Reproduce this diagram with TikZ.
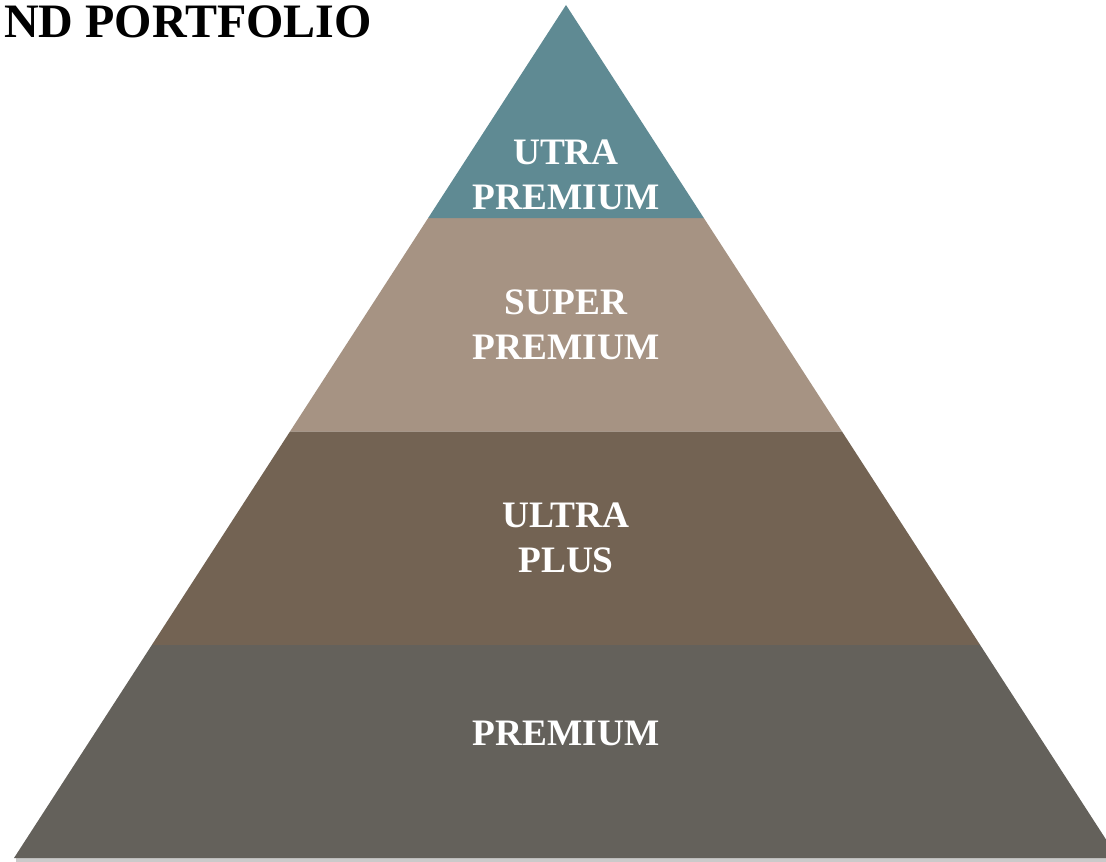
\documentclass[tikz,border=0pt]{standalone}
\usepackage{fontspec}
\setmainfont{Liberation Serif}
\usetikzlibrary{calc}

\definecolor{tealtop}{RGB}{95,138,147}
\definecolor{sandtier}{RGB}{166,147,131}
\definecolor{browntier}{RGB}{115,99,83}
\definecolor{greytier}{RGB}{100,97,91}

\begin{document}
\begin{tikzpicture}[x=0.75pt,y=-0.75pt,
  tier/.style={draw=none},
  tierlabel/.style={text=white, align=center, font=\bfseries\fontsize{28}{34}\selectfont}]
  \useasboundingbox (0,0) rectangle (1106,862);
  \coordinate (apex) at (566,5);
  \coordinate (bl) at (14,858);
  \coordinate (br) at (1118,858);
  % soft shadow under the base
  \fill[black!35, opacity=0.6] (16,857) rectangle (1106,862);
  % the four tiers, bottom to top
  \foreach \lo/\hi/\col in {0/0.25/greytier, 0.25/0.5/browntier, 0.5/0.75/sandtier}
  {
    \fill[tier, \col] ($(bl)!\lo!(apex)$) -- ($(br)!\lo!(apex)$)
      -- ($(br)!\hi!(apex)$) -- ($(bl)!\hi!(apex)$) -- cycle;
  }
  \fill[tier, tealtop] ($(bl)!0.75!(apex)$) -- ($(br)!0.75!(apex)$) -- (apex) -- cycle;

  \node[tierlabel] (utra) at (566,175) {UTRA\\PREMIUM};
  \node[tierlabel] (super) at (566,325) {SUPER\\PREMIUM};
  \node[tierlabel] (ultra) at (566,538) {ULTRA\\PLUS};
  \node[tierlabel] (premium) at (566,733) {PREMIUM};

  \node[anchor=north west, inner sep=0pt, font=\bfseries\fontsize{36}{44}\selectfont] (title) at (4,5) {ND PORTFOLIO};
\end{tikzpicture}
\end{document}
